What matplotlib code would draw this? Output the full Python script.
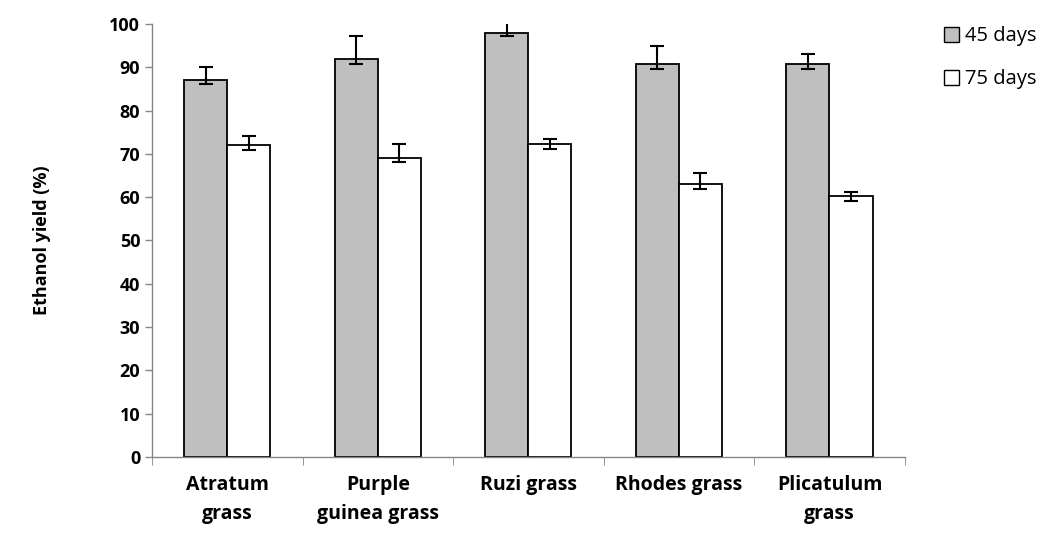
import numpy as np
import matplotlib
matplotlib.use("Agg")
import matplotlib.pyplot as plt
from matplotlib.patches import Patch

categories = ["Atratum\ngrass", "Purple\nguinea grass", "Ruzi grass", "Rhodes grass", "Plicatulum\ngrass"]
yield_45 = [87.1, 91.8, 98.0, 90.7, 90.7]
err_45_lo = [1.0, 1.0, 0.9, 1.0, 1.0]
err_45_hi = [3.0, 5.4, 2.5, 4.2, 2.3]
yield_75 = [72.0, 69.1, 72.3, 63.0, 60.2]
err_75_lo = [1.1, 1.0, 1.1, 1.1, 1.0]
err_75_hi = [2.1, 3.2, 1.2, 2.6, 1.0]

plt.rcParams['font.family'] = ['Open Sans', 'DejaVu Sans']

fig = plt.figure(figsize=(10.52, 5.4), dpi=100)
ax = fig.add_axes([0.1445, 0.1537, 0.7155, 0.802])

x = np.arange(len(categories))
w = 0.286
ekw = dict(elinewidth=1.5, capthick=1.5, ecolor='black', clip_on=True)
ax.bar(x - w/2, yield_45, w, color='#bfbfbf', edgecolor='black', linewidth=1.3,
       yerr=[err_45_lo, err_45_hi], capsize=5, error_kw=ekw, label='45 days')
ax.bar(x + w/2, yield_75, w, color='white', edgecolor='black', linewidth=1.3,
       yerr=[err_75_lo, err_75_hi], capsize=5, error_kw=ekw, label='75 days')

ax.set_xlim(-0.5, len(categories) - 0.5)
ax.set_ylim(0, 100)
ax.set_yticks(np.arange(0, 101, 10))
ax.set_xticks(x)
ax.set_xticklabels(categories, fontsize=14, fontweight='bold', linespacing=1.6)
ax.tick_params(axis='x', length=0, pad=13)
ax.set_xticks(np.arange(-0.5, len(categories)), minor=True)
ax.tick_params(axis='x', which='minor', length=6, color='#868686', direction='out')
ax.tick_params(axis='y', length=5, color='#868686', labelsize=13, width=1)
for lab in ax.get_yticklabels():
    lab.set_fontweight('bold')

for s in ['top', 'right']:
    ax.spines[s].set_visible(False)
for s in ['left', 'bottom']:
    ax.spines[s].set_color('#868686')
    ax.spines[s].set_linewidth(1)

ax.set_ylabel('Ethanol yield (%)', fontsize=13, fontweight='bold', labelpad=42)

handles = [Patch(facecolor='#bfbfbf', edgecolor='black', label='45 days'),
           Patch(facecolor='white', edgecolor='black', label='75 days')]
fig.legend(handles=handles, loc='upper left', bbox_to_anchor=(0.88, 0.985), frameon=False,
           fontsize=14.5, handlelength=0.75, handleheight=0.75, handletextpad=0.3,
           labelspacing=1.15)

fig.savefig('out.png', dpi=100)
